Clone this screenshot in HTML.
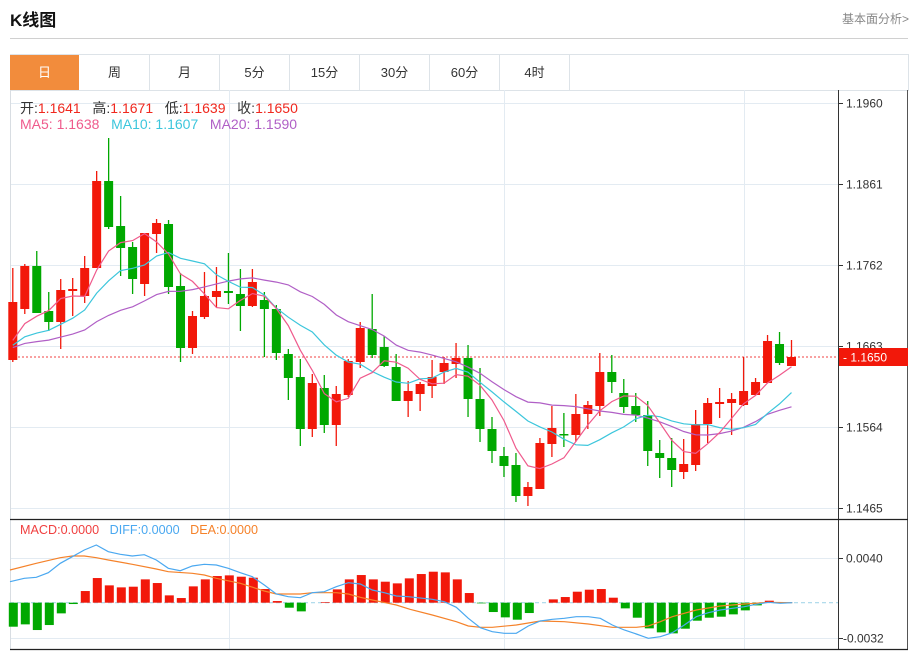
<!DOCTYPE html>
<html><head><meta charset="utf-8">
<style>
body{margin:0;background:#fff;font-family:"Liberation Sans","Noto Sans CJK SC",sans-serif;}
#w{position:relative;width:914px;height:653px;overflow:hidden;}
.t{position:absolute;white-space:nowrap;}
</style></head><body><div id="w">
<div class="t" style="left:10px;top:6px;font-size:17px;font-weight:bold;color:#111;">K线图</div>
<div class="t" style="left:842px;top:10px;font-size:12px;color:#888;">基本面分析&gt;</div>
<div style="position:absolute;left:10px;top:38px;width:898px;height:1px;background:#d0d0d0"></div>
<div style="position:absolute;left:10px;top:54px;width:897px;height:35px;border:1px solid #dde3e8;border-bottom:1px solid #dde3e8"></div>
<div id="tabs"></div>
<svg id="s" width="914" height="653" style="position:absolute;left:0;top:0"></svg>
<div class="t" style="left:20px;top:98px;font-size:14px;color:#333;">开:<span style="color:#f0281e">1.1641</span>&nbsp;&nbsp; 高:<span style="color:#f0281e">1.1671</span>&nbsp;&nbsp; 低:<span style="color:#f0281e">1.1639</span>&nbsp;&nbsp; 收:<span style="color:#f0281e">1.1650</span></div>
<div class="t" style="left:20px;top:116px;font-size:14px;"><span style="color:#ef5a8c">MA5: 1.1638</span>&nbsp;&nbsp;&nbsp;<span style="color:#3cc6dc">MA10: 1.1607</span>&nbsp;&nbsp;&nbsp;<span style="color:#b05fc6">MA20: 1.1590</span></div>
<div class="t" style="left:20px;top:523px;font-size:12.6px;"><span style="color:#f04040">MACD:0.0000</span>&nbsp;&nbsp;&nbsp;<span style="color:#4aa8f0">DIFF:0.0000</span>&nbsp;&nbsp;&nbsp;<span style="color:#f5822a">DEA:0.0000</span></div>
</div>
<script>
var tabs=["日","周","月","5分","15分","30分","60分","4时"],h="";
for(var i=0;i<8;i++){var l=10+i*70;h+='<div class="t" style="left:'+l+'px;top:55px;width:69px;height:35px;line-height:35px;text-align:center;font-size:13px;'+(i==0?'background:#f28c3c;color:#fff;':'color:#333;border-right:1px solid #dde3e8;')+'">'+tabs[i]+'</div>';}
document.getElementById('tabs').innerHTML=h;
var R="#f2180a",G="#00a800";
var C=[[302,360,268,362,R],[266,309,264,314,R],[266,313,251,313,G],[311,322,292,331,G],[290,322,279,349,R],[289,291,278,316,R],[268,296,256,303,R],[181,268,171,268,R],[181,227,138,229,G],[226,248,196,276,G],[247,279,242,294,G],[233,284,233,296,R],[223,234,219,253,R],[224,287,220,294,G],[286,348,273,362,G],[316,348,311,354,R],[296,317,272,319,R],[291,297,267,307,R],[291,293,253,304,G],[294,306,269,331,G],[282,306,269,307,R],[300,309,292,357,G],[309,353,305,360,G],[354,378,349,400,G],[377,429,359,446,G],[383,429,374,437,R],[388,425,375,433,G],[394,425,386,446,R],[361,395,359,397,R],[328,362,322,368,R],[329,355,294,358,G],[347,366,336,367,G],[367,401,354,401,G],[391,401,381,417,R],[384,394,382,411,R],[377,386,360,398,R],[363,372,357,384,R],[358,364,343,378,R],[358,399,345,417,G],[399,429,368,442,G],[429,451,417,463,G],[456,466,447,477,G],[465,496,453,502,G],[487,496,482,506,R],[443,489,438,489,R],[428,444,406,457,R],[434,435,413,447,G],[414,435,394,442,R],[405,414,401,429,R],[372,406,353,416,R],[372,382,355,393,G],[393,407,379,413,G],[406,415,393,422,G],[415,451,401,466,G],[453,458,440,478,G],[458,470,438,487,G],[464,472,439,479,R],[424,465,410,471,R],[403,424,398,443,R],[402,404,388,418,R],[399,403,393,435,R],[391,405,357,406,R],[382,395,378,395,R],[341,383,335,383,R],[344,363,332,365,G],[357,366,340,366,R]];
var M=[-72,-65,-82,-67,-32,-4,35,74,52,46,48,70,59,22,14,49,70,80,82,78,75,41,5,-15,-26,0,2,40,70,83,70,63,58,73,86,93,91,70,29,-2,-28,-44,-51,-31,0,10,17,33,39,41,15,-17,-45,-77,-89,-92,-78,-54,-45,-42,-35,-23,-8,6,0,0];
var DF=[[0,30,185],[0,73,175],[0,109,172],[0,145,158],[0,181,130],[0,217,110],[0,253,90],[0,289,75],[0,325,95],[0,361,103],[0,397,108],[0,433,104],[0,469,120],[0,505,145],[0,541,152],[0,577,138],[0,613,133],[0,649,135],[0,685,145],[0,721,158],[0,757,170],[0,793,195],[0,829,222],[0,865,230],[0,901,233],[0,937,218],[0,973,215],[0,1009,200],[0,1045,188],[0,1081,192],[0,1117,210],[0,1153,218],[0,1189,228],[0,1225,230],[410,67,238],[410,103,245],[410,139,262],[410,175,295],[410,211,323],[410,247,335],[410,283,340],[410,319,340],[410,355,318],[410,391,303],[410,427,298],[410,463,295],[410,499,290],[410,535,290],[410,571,295],[410,607,315],[410,643,330],[410,679,342],[410,715,355],[410,751,350],[410,787,338],[410,823,315],[410,859,290],[410,895,278],[410,931,270],[410,967,265],[410,1003,260],[410,1039,253],[410,1075,247],[410,1111,250],[410,1147,248]];
var DE=[[0,30,150],[0,109,130],[0,181,113],[0,217,108],[0,253,108],[0,289,113],[0,325,120],[0,397,133],[0,469,147],[0,505,155],[0,577,160],[0,613,165],[0,649,175],[0,721,190],[0,793,213],[0,829,222],[0,901,222],[0,937,218],[0,1009,218],[0,1045,222],[0,1081,232],[0,1117,240],[0,1189,255],[410,0,268],[410,67,285],[410,139,305],[410,175,318],[410,211,322],[410,247,322],[410,319,315],[410,391,303],[410,463,305],[410,535,312],[410,607,322],[410,679,322],[410,715,318],[410,751,305],[410,787,290],[410,823,280],[410,859,270],[410,931,258],[410,1003,252],[410,1075,247],[410,1147,248]];
var s="";
function ln(x1,y1,x2,y2,c,w,d){s+='<line x1="'+x1+'" y1="'+y1+'" x2="'+x2+'" y2="'+y2+'" stroke="'+c+'" stroke-width="'+(w||1)+'"'+(d?' stroke-dasharray="'+d+'"':'')+'/>';}
function tx(x,y,t,c,fs,a){s+='<text x="'+x+'" y="'+y+'" fill="'+c+'" font-size="'+(fs||12)+'" font-family="Liberation Sans, sans-serif"'+(a?' text-anchor="'+a+'"':'')+'>'+t+'</text>';}
var gc="#e3ebf2";
[103,184,265,346,427,508,558,638].forEach(function(y){ln(10,y+.5,838,y+.5,gc,1);});
[229,504,744].forEach(function(x){ln(x+.5,90,x+.5,649,gc,1);});
ln(10.5,90,10.5,650,"#d8dde2",1);
ln(907.5,90,907.5,650,"#555",1);
ln(838.5,90,838.5,650,"#333",1);
ln(10,519.5,908,519.5,"#222",1.3);
ln(10,649.5,908,649.5,"#222",1.3);
var labs=[[103,"1.1960"],[184,"1.1861"],[265,"1.1762"],[346,"1.1663"],[427,"1.1564"],[508,"1.1465"],[558,"0.0040"],[638,"-0.0032"]];
labs.forEach(function(l){ln(838,l[0]+.5,843,l[0]+.5,"#333",1);tx(l[1][0]=="-"?843:846,l[0]+4.5,l[1],"#333",12);});
ln(10,357,838,357,"#f04040",1,"2,2");
function X(i){return 12.8+i*11.98;}
C.forEach(function(c,i){var x=X(i);ln(x,c[2],x,c[3],c[4],1.3);var h=Math.max(c[1]-c[0],1.5);s+='<rect x="'+(x-4.5)+'" y="'+c[0]+'" width="9" height="'+h+'" fill="'+c[4]+'"/>';});
var cl=C.map(function(c){return c[4]==R?c[0]:c[1];});
function ma(n,col){var arr=[],pts=[];for(var k=0;k<19;k++)arr.push(350);arr=arr.concat(cl);for(var i=0;i<cl.length;i++){var sm=0;for(var j=0;j<n;j++)sm+=arr[19+i-j];pts.push(X(i).toFixed(1)+","+(sm/n).toFixed(1));}
s+='<polyline points="'+pts.join(" ")+'" fill="none" stroke="'+col+'" stroke-width="1.2"/>';}
ma(20,"#b05fc6");ma(10,"#3cc6dc");ma(5,"#ef5a8c");
s+='<rect x="839" y="348" width="69" height="18" fill="#f2180a"/>';
tx(843,361.5,"- 1.1650","#fff",12);
var z=602.7;
ln(10,z,838,z,"#a8d8ea",1.2,"4,3");
M.forEach(function(m,i){var x=13.3+i*12,h=Math.abs(m)/3;if(h<0.5)return;s+='<rect x="'+(x-4.5)+'" y="'+(m>0?z-h:z)+'" width="9" height="'+h+'" fill="'+(m>0?R:G)+'"/>';});
function pl(a,col){var p=a.map(function(q){return (q[0]+q[1]/3).toFixed(1)+","+(520+q[2]/3).toFixed(1);});s+='<polyline points="'+p.join(" ")+'" fill="none" stroke="'+col+'" stroke-width="1.2"/>';}
pl(DE,"#f5822a");pl(DF,"#4aa8f0");
document.getElementById('s').innerHTML=s;
</script>
</body></html>
